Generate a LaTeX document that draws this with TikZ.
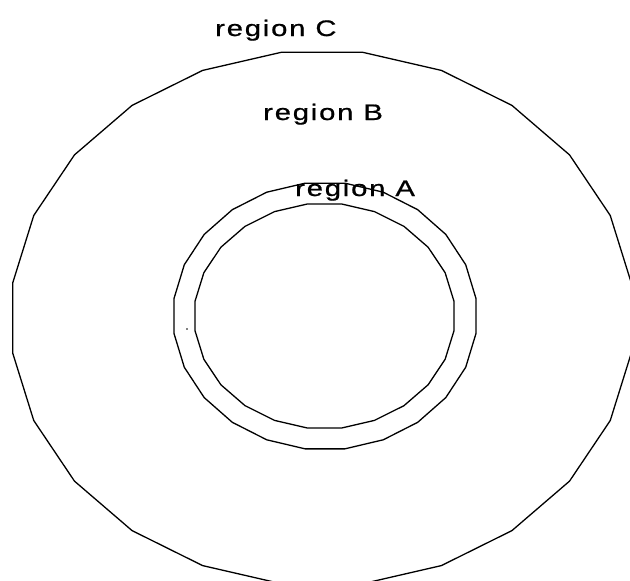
\documentclass[tikz,border=0pt]{standalone}
\usepackage{fontspec}
\setmainfont{Liberation Sans}
\newfontfamily\lblfont{Liberation Sans}[FakeStretch=1.3,LetterSpace=8,FakeBold=0.8]
\usepackage{xcolor}
\usepackage{tikz}
\usetikzlibrary{positioning}
\tikzset{
  ring/.style={draw=black,line width=1.3pt,line join=round},
  reglbl/.style={font=\lblfont\fontsize{22.5}{26}\selectfont,text=black,inner sep=0pt,anchor=base west},
}
\begin{document}
\begin{tikzpicture}[x=1pt,y=-1pt]
  \useasboundingbox (0,0) rectangle (630,581);
  % ---- the three 24-gons ----
  \foreach \cx/\cy/\rx/\ry in {322/318/312/268, 325/316/152.3/134, 324.5/316/130.6/113} {
    \draw[ring] plot[samples at={7.5,22.5,...,352.5}] ({\cx+\rx*cos(\x)},{\cy+\ry*sin(\x)}) -- cycle;
  }
  \fill (187,329) circle (0.9);
  % ---- labels ----
  \node[reglbl] (regC) at (215,36) {region C};
  \node[reglbl] (regB) at (263,120) {region B};
  \node[reglbl] (regA) at (295,196) {region A};
\end{tikzpicture}
\end{document}
